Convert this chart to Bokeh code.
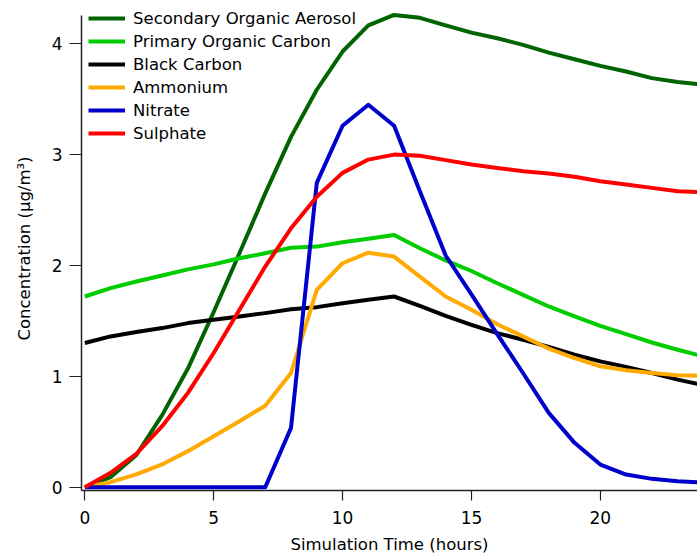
from bokeh.plotting import figure
from bokeh.models import Range1d, FixedTicker, Legend, LegendItem
from bokeh.embed import file_html
from bokeh.resources import INLINE

hours = list(range(0, 25))

soa = [0.0, 0.09, 0.29, 0.65, 1.07, 1.58, 2.11, 2.65, 3.16, 3.585, 3.93, 4.165, 4.26,
       4.234, 4.165, 4.10, 4.05, 3.99, 3.92, 3.86, 3.80, 3.75, 3.69, 3.655, 3.63]
poc = [1.72, 1.795, 1.855, 1.91, 1.965, 2.01, 2.065, 2.11, 2.16, 2.17, 2.21, 2.24, 2.275,
       2.155, 2.045, 1.95, 1.84, 1.735, 1.63, 1.54, 1.455, 1.38, 1.305, 1.24, 1.18]
bc = [1.30, 1.36, 1.40, 1.435, 1.48, 1.51, 1.54, 1.57, 1.605, 1.624, 1.66, 1.69, 1.72,
      1.635, 1.545, 1.465, 1.39, 1.33, 1.265, 1.195, 1.135, 1.085, 1.03, 0.97, 0.92]
ammonium = [0.0, 0.045, 0.115, 0.205, 0.325, 0.46, 0.595, 0.735, 1.03, 1.78, 2.02, 2.115, 2.08,
            1.90, 1.72, 1.60, 1.47, 1.36, 1.25, 1.165, 1.09, 1.055, 1.03, 1.01, 1.005]
nitrate = [0.0, 0.0, 0.0, 0.0, 0.0, 0.0, 0.0, 0.0, 0.535, 2.745, 3.26, 3.45, 3.26,
           2.67, 2.09, 1.74, 1.38, 1.03, 0.67, 0.40, 0.204, 0.114, 0.075, 0.054, 0.04]
sulphate = [0.0, 0.13, 0.30, 0.55, 0.85, 1.21, 1.60, 1.99, 2.335, 2.62, 2.835, 2.955, 3.00,
            2.99, 2.95, 2.91, 2.88, 2.85, 2.83, 2.80, 2.76, 2.73, 2.70, 2.67, 2.66]

series = [
    ("Secondary Organic Aerosol", soa, "#006400"),
    ("Primary Organic Carbon", poc, "#00CC00"),
    ("Black Carbon", bc, "#000000"),
    ("Ammonium", ammonium, "#FFAA00"),
    ("Nitrate", nitrate, "#0000CC"),
    ("Sulphate", sulphate, "#FF0000"),
]

x_ticks = [0, 5, 10, 15, 20]
y_ticks = [0, 1, 2, 3, 4]

FONT = "DejaVu Sans"

p = figure(width=697, height=556, output_backend="svg", toolbar_location=None,
           x_range=Range1d(-0.128, 23.77), y_range=Range1d(-0.03, 4.336),
           min_border_left=81, min_border_right=0, min_border_top=6, min_border_bottom=65)
p.outline_line_color = None
p.xgrid.grid_line_color = None
p.ygrid.grid_line_color = None
p.background_fill_color = "white"
p.border_fill_color = "white"

renderers = []
for name, vals, col in series:
    r = p.line(hours, vals, line_color=col, line_width=4, line_join="round")
    renderers.append((name, r))

for ax in (p.xaxis[0], p.yaxis[0]):
    ax.axis_line_color = "#222222"
    ax.axis_line_width = 1.5
    ax.major_tick_line_color = "#222222"
    ax.major_tick_line_width = 1.2
    ax.minor_tick_line_color = None
    ax.major_tick_in = 0
    ax.major_label_text_font = FONT
    ax.major_label_text_font_size = "17px"
    ax.major_label_text_color = "black"
    ax.axis_label_text_font = FONT
    ax.axis_label_text_font_size = "16.5px"
    ax.axis_label_text_font_style = "normal"
    ax.axis_label_text_color = "black"

p.yaxis[0].bounds = (-0.03, 4.255)
p.xaxis[0].ticker = FixedTicker(ticks=x_ticks)
p.yaxis[0].ticker = FixedTicker(ticks=y_ticks)
p.xaxis[0].major_tick_out = 10
p.yaxis[0].major_tick_out = 12
p.xaxis[0].major_label_standoff = 10
p.yaxis[0].major_label_standoff = 7
p.xaxis[0].axis_label = "Simulation Time (hours)"
p.yaxis[0].axis_label = "Concentration (μg/m³)"
p.xaxis[0].axis_label_standoff = 8
p.yaxis[0].axis_label_standoff = 15

legend = Legend(items=[LegendItem(label=n, renderers=[r]) for n, r in renderers],
                location=(7, 347), orientation="vertical")
legend.background_fill_alpha = 0
legend.border_line_alpha = 0
legend.padding = 0
legend.margin = 0
legend.spacing = 3
legend.label_height = 20
legend.glyph_height = 20
legend.glyph_width = 37
legend.label_standoff = 8
legend.label_text_font = FONT
legend.label_text_font_size = "16.5px"
legend.label_text_color = "black"
p.add_layout(legend, "center")

open("out.html", "w").write(file_html(p, INLINE))
